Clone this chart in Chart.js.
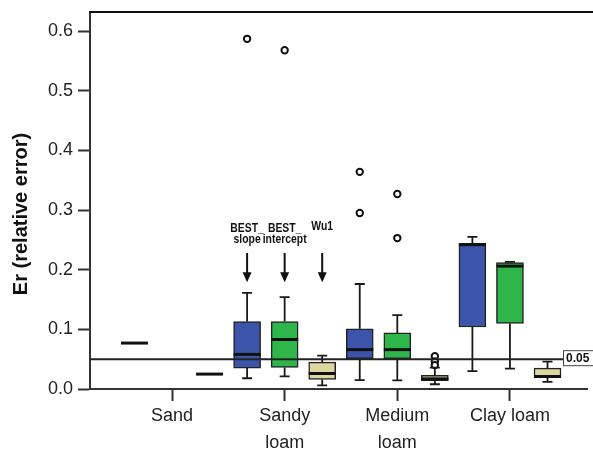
<!DOCTYPE html>
<html>
<head>
<meta charset="utf-8">
<script src="https://cdn.jsdelivr.net/npm/chart.js@4"></script>
<style>
  html, body { margin: 0; padding: 0; background: #fff; }
  #wrap { width: 593px; height: 449px; }
</style>
</head>
<body>
<div id="wrap"><canvas id="grafico"></canvas></div>
<script>
const soils = ['Sand', ['Sandy', 'loam'], ['Medium', 'loam'], 'Clay loam'];
const methods = ['BEST_slope', 'BEST_intercept', 'Wu1'];
const yTicks = [0, 0.1, 0.2, 0.3, 0.4, 0.5, 0.6];
const refValue = 0.05;

// box values per soil: whisker low, Q1, median, Q3, whisker high
const slopeLow  = [0.077, 0.018, 0.015, 0.030];
const slopeQ1   = [0.077, 0.035, 0.051, 0.104];
const slopeMed  = [0.077, 0.058, 0.066, 0.242];
const slopeQ3   = [0.077, 0.113, 0.101, 0.244];
const slopeHigh = [0.077, 0.161, 0.176, 0.255];
const slopeOut  = [[], [0.587], [0.364, 0.295], []];

const interLow  = [null, 0.021, 0.0145, 0.034];
const interQ1   = [null, 0.036, 0.051, 0.110];
const interMed  = [null, 0.083, 0.066, 0.206];
const interQ3   = [null, 0.113, 0.094, 0.212];
const interHigh = [null, 0.154, 0.124, 0.213];
const interOut  = [[], [0.568], [0.327, 0.253], []];

const wuLow  = [0.025, 0.006, 0.008, 0.012];
const wuQ1   = [0.025, 0.016, 0.014, 0.0195];
const wuMed  = [0.025, 0.026, 0.017, 0.021];
const wuQ3   = [0.025, 0.045, 0.023, 0.035];
const wuHigh = [0.025, 0.056, 0.036, 0.046];
const wuOut  = [[], [], [0.055, 0.046, 0.040], []];

const series = [
    { low: slopeLow, q1: slopeQ1, med: slopeMed, q3: slopeQ3, high: slopeHigh, out: slopeOut, color: '#3c55aa', off: -1 / 3 },
    { low: interLow, q1: interQ1, med: interMed, q3: interQ3, high: interHigh, out: interOut, color: '#2eb64b', off: 0 },
    { low: wuLow, q1: wuQ1, med: wuMed, q3: wuQ3, high: wuHigh, out: wuOut, color: '#dcd6a0', off: 1 / 3 }
];

const BOX_W = 27;

const datasets = [];
series.forEach((s, k) => {
    const cajas = [];
    s.q1.forEach((v, i) => {
        if (v !== null) cajas.push({ x: i + s.off, y: [v, s.q3[i]] });
    });
    datasets.push({
        type: 'bar',
        label: methods[k],
        data: cajas,
        backgroundColor: s.color,
        borderColor: '#222',
        borderWidth: 1.5,
        borderSkipped: false,
        barThickness: BOX_W,
        grouped: false
    });
});
series.forEach((s, k) => {
    const puntos = [];
    s.out.forEach((lista, i) => {
        lista.forEach(v => puntos.push({ x: i + s.off, y: v }));
    });
    datasets.push({
        type: 'scatter',
        label: methods[k] + ' outliers',
        data: puntos,
        pointRadius: 3.2,
        pointBackgroundColor: '#fff',
        pointBorderColor: '#111',
        pointBorderWidth: 2
    });
});

const extras = {
    id: 'extras',
    afterDatasetsDraw(chart) {
        const ctx = chart.ctx;
        const xs = chart.scales.x;
        const ys = chart.scales.y;
        const area = chart.chartArea;
        ctx.save();

        // whiskers and medians
        series.forEach(s => {
            s.q1.forEach((v, i) => {
                if (v === null) return;
                const x = xs.getPixelForValue(i + s.off);
                ctx.strokeStyle = '#1a1a1a';
                ctx.lineWidth = 1.8;
                if (s.high[i] > s.q3[i]) {
                    const yt = ys.getPixelForValue(s.high[i]);
                    ctx.beginPath();
                    ctx.moveTo(x, ys.getPixelForValue(s.q3[i]));
                    ctx.lineTo(x, yt);
                    ctx.moveTo(x - 5, yt);
                    ctx.lineTo(x + 5, yt);
                    ctx.stroke();
                }
                if (s.low[i] < s.q1[i]) {
                    const yb = ys.getPixelForValue(s.low[i]);
                    ctx.beginPath();
                    ctx.moveTo(x, ys.getPixelForValue(s.q1[i]));
                    ctx.lineTo(x, yb);
                    ctx.moveTo(x - 5, yb);
                    ctx.lineTo(x + 5, yb);
                    ctx.stroke();
                }
                const ym = ys.getPixelForValue(s.med[i]);
                ctx.lineWidth = 3;
                ctx.strokeStyle = '#111';
                ctx.beginPath();
                ctx.moveTo(x - BOX_W / 2, ym);
                ctx.lineTo(x + BOX_W / 2, ym);
                ctx.stroke();
            });
        });

        // reference line 0.05 with its label
        const yr = ys.getPixelForValue(refValue);
        const boxLeft = area.right - 24;
        ctx.strokeStyle = '#222';
        ctx.lineWidth = 2;
        ctx.beginPath();
        ctx.moveTo(area.left, yr);
        ctx.lineTo(boxLeft, yr);
        ctx.stroke();
        ctx.fillStyle = '#fff';
        ctx.fillRect(boxLeft, yr - 8, 30, 15);
        ctx.lineWidth = 1;
        ctx.strokeStyle = '#444';
        ctx.strokeRect(boxLeft + 0.5, yr - 8.5, 30, 15);
        ctx.fillStyle = '#111';
        ctx.font = 'bold 12px "Liberation Sans", Arial, sans-serif';
        ctx.textAlign = 'left';
        ctx.textBaseline = 'middle';
        ctx.fillText(refValue.toFixed(2), boxLeft + 3, yr);

        // method labels with arrows over Sandy loam (condensed bold text)
        const notas = [['BEST_', 'slope'], ['BEST_', 'intercept'], ['Wu1']];
        ctx.font = 'bold 13px "Liberation Sans", Arial, sans-serif';
        ctx.textAlign = 'center';
        series.forEach((s, k) => {
            const x = xs.getPixelForValue(1 + s.off);
            const lineas = notas[k];
            lineas.forEach((t, j) => {
                const yv = lineas.length === 1 ? 0.272 : 0.269 - j * 0.019;
                ctx.save();
                ctx.translate(x, ys.getPixelForValue(yv));
                ctx.scale(0.8, 1);
                ctx.fillText(t, 0, 0);
                ctx.restore();
            });
            const y0 = ys.getPixelForValue(0.228);
            const y1 = ys.getPixelForValue(0.179);
            ctx.strokeStyle = '#111';
            ctx.lineWidth = 2;
            ctx.beginPath();
            ctx.moveTo(x, y0);
            ctx.lineTo(x, y1 - 8);
            ctx.stroke();
            ctx.beginPath();
            ctx.moveTo(x - 4.5, y1 - 10);
            ctx.lineTo(x + 4.5, y1 - 10);
            ctx.lineTo(x, y1);
            ctx.closePath();
            ctx.fill();
        });

        // top frame line
        ctx.strokeStyle = '#111';
        ctx.lineWidth = 2;
        ctx.beginPath();
        ctx.moveTo(area.left - 1, area.top);
        ctx.lineTo(chart.width, area.top);
        ctx.stroke();

        // y axis title
        ctx.translate(21.5, 214);
        ctx.rotate(-Math.PI / 2);
        ctx.font = 'bold 20px "Liberation Sans", Arial, sans-serif';
        ctx.fillStyle = '#111';
        ctx.textAlign = 'center';
        ctx.textBaseline = 'middle';
        ctx.fillText('Er (relative error)', 0, 0);
        ctx.restore();
    }
};

const ctx = document.getElementById('grafico').getContext('2d');
new Chart(ctx, {
    type: 'bar',
    data: { datasets: datasets },
    plugins: [extras],
    options: {
        responsive: true,
        maintainAspectRatio: false,
        animation: false,
        layout: { padding: { top: 12, left: 0, right: 0, bottom: 0 } },
        plugins: {
            legend: { display: false },
            tooltip: { enabled: false }
        },
        scales: {
            x: {
                type: 'linear',
                min: -0.728,
                max: 3.684,
                offset: false,
                afterBuildTicks: scale => { scale.ticks = soils.map((s, i) => ({ value: i })); },
                afterFit: scale => { scale.height = 60; scale.paddingLeft = 0; scale.paddingRight = 0; },
                grid: { offset: false, drawOnChartArea: false, drawTicks: true, tickLength: 12, tickWidth: 2, tickColor: '#333' },
                border: { display: true, color: '#333', width: 2 },
                ticks: {
                    autoSkip: false,
                    maxRotation: 0,
                    padding: 2,
                    color: '#222',
                    font: { family: '"Liberation Sans", Arial, sans-serif', size: 18, lineHeight: 1.5 },
                    callback: v => soils[v]
                }
            },
            y: {
                min: 0,
                max: 0.632,
                afterBuildTicks: scale => { scale.ticks = yTicks.map(v => ({ value: v })); },
                afterFit: scale => { scale.width = 90; scale.paddingTop = 0; scale.paddingBottom = 0; },
                grid: { drawOnChartArea: false, drawTicks: true, tickLength: 12, tickWidth: 2, tickColor: '#333' },
                border: { display: true, color: '#333', width: 2 },
                ticks: {
                    padding: 5,
                    color: '#222',
                    font: { family: '"Liberation Sans", Arial, sans-serif', size: 18 },
                    callback: v => Number(v).toFixed(1)
                }
            }
        }
    }
});
</script>
</body>
</html>
